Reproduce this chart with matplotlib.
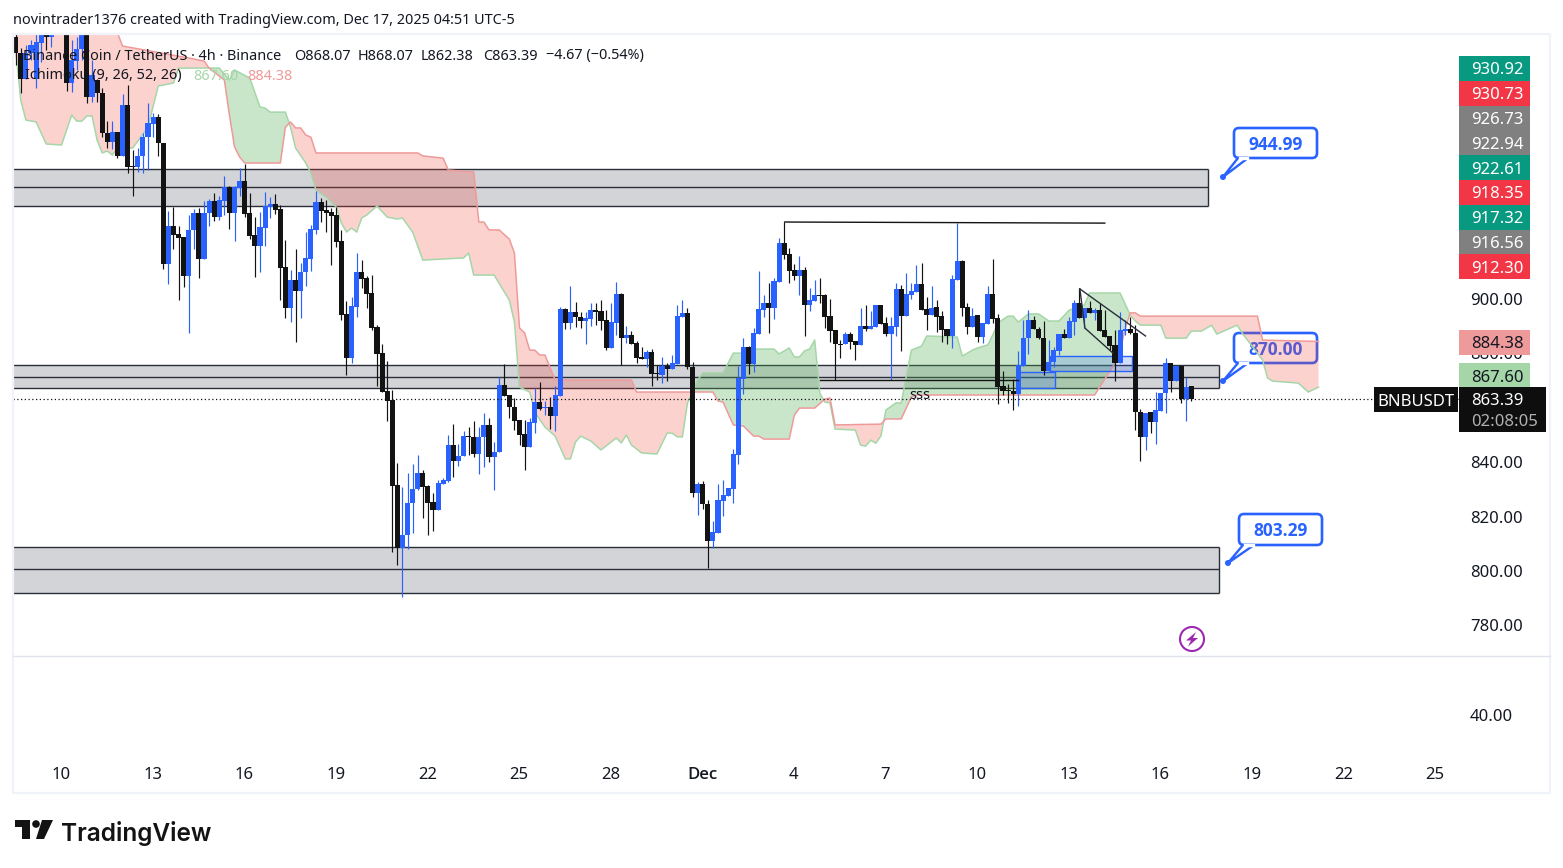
#!/usr/bin/env python
import numpy as np
import matplotlib
matplotlib.use('Agg')
import matplotlib.pyplot as plt
from matplotlib.patches import Rectangle, FancyBboxPatch, Polygon, Circle
from matplotlib.transforms import Affine2D

W, H = 1563, 868

plt.rcParams['font.family'] = ['Noto Sans', 'DejaVu Sans']

# 4h candles, BNBUSDT
opens = [996.3, 990.4, 980.9, 990.4, 980.9, 994.1, 997.0, 996.3, 1003, 1001,
         997.8, 979.4, 987.5, 991.9, 997.0, 974.2, 980.5, 975.7, 961.0, 957.7,
         961.4, 952.6, 971.3, 948.9, 948.5, 952.6, 959.5, 964.3, 966.9, 957.3,
         912.9, 926.8, 923.9, 922.8, 908.4, 925.3, 931.6, 914.7, 931.6, 936.0,
         930.1, 936.0, 941.2, 931.6, 940.8, 943.4, 931.6, 923.5, 919.5, 926.1,
         933.8, 934.9, 933.1, 911.8, 896.7, 907.0, 902.9, 909.9, 914.7, 925.3,
         935.6, 932.7, 932.0, 930.9, 921.3, 894.5, 878.3, 897.0, 909.9, 907.7,
         902.2, 889.7, 880.1, 866.2, 862.9, 831.6, 808.4, 813.2, 825.0, 830.1,
         836.0, 831.2, 825.4, 822.4, 832.0, 833.1, 846.3, 840.4, 842.3, 849.6,
         849.3, 843.0, 849.3, 853.7, 841.9, 843.7, 868.4, 864.7, 860.3, 855.5,
         850.4, 845.6, 854.4, 862.1, 859.9, 860.3, 857.0, 864.3, 896.3, 891.2,
         895.2, 893.4, 891.9, 892.6, 895.9, 895.6, 892.3, 882.0, 891.2, 901.8,
         885.6, 886.7, 883.8, 878.7, 877.9, 880.5, 872.8, 872.1, 875.4, 874.3,
         876.1, 893.4, 894.8, 875.0, 828.7, 832.0, 824.6, 811.0, 814.0, 825.7,
         827.6, 830.1, 842.6, 870.6, 882.3, 876.1, 887.1, 895.9, 898.5, 896.7,
         906.2, 920.6, 916.5, 910.7, 908.4, 910.7, 897.8, 899.2, 901.5, 901.5,
         893.7, 888.6, 883.4, 883.4, 887.1, 884.5, 883.1, 890.1, 889.0, 889.7,
         897.8, 891.2, 887.1, 889.7, 903.7, 893.7, 901.5, 902.6, 905.5, 896.3,
         894.1, 897.0, 893.7, 889.0, 886.4, 907.0, 914.0, 897.0, 889.7, 894.1,
         886.0, 890.8, 901.8, 893.0, 868.0, 866.5, 866.2, 865.1, 875.4, 885.6,
         892.3, 889.0, 885.6, 873.5, 876.8, 880.9, 887.1, 885.6, 891.5, 898.5,
         893.0, 896.7, 894.8, 895.9, 888.6, 886.4, 883.1, 876.5, 888.2, 889.0,
         887.5, 858.5, 849.3, 858.5, 854.8, 858.8, 865.4, 876.5, 869.8, 875.4,
         863.2, 868.07]
highs = [997.8, 992.3, 993.4, 995.2, 997.8, 997.8, 997.8, 997.8, 1005, 1003,
         1000, 995.2, 996.3, 998.0, 999.0, 987.8, 980.9, 977.6, 965.4, 965.4,
         961.4, 975.3, 978.6, 954.8, 955.5, 961.0, 972.0, 968.4, 968.0, 957.3,
         932.3, 933.8, 926.8, 922.8, 930.9, 933.1, 933.4, 936.0, 936.7, 938.9,
         937.8, 945.2, 941.5, 941.5, 948.1, 949.6, 938.9, 930.1, 932.0, 939.3,
         937.5, 938.6, 934.5, 921.7, 910.7, 918.4, 913.2, 924.6, 927.2, 939.7,
         937.1, 936.4, 933.4, 933.8, 925.3, 899.2, 900.7, 916.9, 914.3, 908.4,
         908.8, 890.4, 883.4, 877.2, 866.5, 839.7, 830.9, 836.0, 839.3, 842.6,
         837.1, 831.6, 828.7, 833.4, 834.2, 850.0, 854.0, 846.7, 851.5, 852.9,
         855.1, 852.9, 858.1, 856.2, 847.4, 871.3, 876.1, 864.7, 863.6, 855.5,
         855.5, 856.2, 867.3, 869.5, 862.5, 864.0, 868.0, 897.0, 896.7, 904.8,
         898.9, 895.2, 895.2, 898.5, 898.5, 899.6, 895.9, 898.5, 906.2, 902.2,
         890.1, 888.2, 884.5, 882.3, 881.2, 881.6, 875.7, 878.7, 876.5, 879.4,
         897.8, 899.6, 896.7, 876.8, 832.7, 833.1, 826.1, 818.4, 832.0, 833.5,
         830.5, 844.9, 875.4, 885.6, 882.7, 889.3, 910.3, 901.5, 905.9, 907.7,
         922.4, 928.3, 918.7, 912.9, 915.8, 911.8, 904.0, 907.0, 907.7, 901.8,
         900.0, 888.6, 884.9, 887.9, 887.9, 884.5, 896.7, 897.8, 895.6, 897.8,
         897.8, 893.4, 893.4, 905.9, 905.1, 909.5, 905.9, 912.5, 913.2, 900.7,
         904.8, 899.6, 895.6, 889.0, 908.8, 927.9, 914.3, 898.5, 896.7, 894.1,
         891.2, 904.8, 914.7, 894.5, 873.5, 868.7, 870.6, 880.9, 892.3, 895.9,
         893.7, 889.7, 891.9, 884.9, 882.3, 887.1, 888.9, 893.4, 899.6, 904.0,
         896.7, 899.2, 896.7, 898.5, 895.9, 886.4, 888.6, 895.2, 892.3, 893.4,
         890.4, 859.6, 858.1, 858.5, 865.8, 865.4, 878.3, 876.5, 875.4, 875.4,
         871.3, 868.07]
lows = [986.0, 975.7, 980.9, 987.8, 977.6, 987.1, 991.5, 992.6, 999, 998,
        976.4, 976.1, 984.2, 987.8, 972.0, 972.4, 972.4, 959.5, 955.5, 955.1,
        951.8, 952.6, 946.3, 937.8, 946.7, 946.3, 947.4, 959.5, 952.6, 911.0,
        905.5, 918.4, 899.6, 904.4, 887.5, 918.4, 907.7, 914.7, 926.8, 928.7,
        929.0, 930.9, 925.7, 921.3, 937.8, 930.1, 922.0, 908.1, 909.9, 919.5,
        929.8, 931.2, 899.6, 893.0, 891.5, 884.2, 893.0, 904.8, 910.3, 923.9,
        928.3, 924.6, 912.5, 919.1, 892.3, 872.0, 876.5, 893.4, 904.0, 896.7,
        888.6, 868.0, 865.8, 855.1, 807.0, 802.2, 790.4, 808.1, 814.0, 829.8,
        819.5, 813.2, 814.7, 822.4, 832.0, 832.7, 834.6, 838.6, 842.3, 842.6,
        841.9, 835.7, 838.2, 840.1, 829.8, 843.7, 864.3, 856.2, 851.8, 846.3,
        837.1, 845.6, 850.7, 859.2, 857.3, 852.2, 851.5, 864.3, 889.0, 889.0,
        889.7, 889.3, 883.4, 890.1, 890.4, 888.6, 881.2, 882.0, 886.8, 875.7,
        883.8, 883.4, 876.5, 877.9, 875.0, 868.0, 870.2, 869.1, 869.8, 874.3,
        876.1, 893.4, 874.2, 827.2, 820.6, 822.8, 801.1, 808.4, 814.0, 820.2,
        827.6, 825.0, 839.3, 865.1, 872.4, 873.1, 887.1, 893.4, 887.5, 892.6,
        906.2, 914.7, 905.9, 907.0, 901.5, 886.4, 895.6, 899.2, 898.5, 889.3,
        884.2, 870.2, 878.3, 883.4, 881.6, 877.6, 883.1, 888.2, 889.0, 889.7,
        890.8, 886.4, 870.2, 886.4, 880.9, 893.7, 900.0, 902.6, 895.9, 888.6,
        894.1, 887.9, 884.2, 883.4, 882.0, 907.0, 893.7, 887.1, 889.7, 884.2,
        883.8, 890.8, 891.2, 861.4, 864.7, 861.8, 859.2, 860.7, 875.4, 879.8,
        889.0, 885.3, 872.0, 873.5, 875.0, 879.4, 885.6, 885.6, 886.8, 893.0,
        889.3, 894.8, 892.3, 888.2, 886.0, 881.2, 869.8, 876.5, 886.8, 887.1,
        851.8, 840.4, 844.5, 850.7, 846.7, 858.8, 858.1, 865.8, 869.8, 861.8,
        855.1, 862.38]
closes = [990.4, 980.9, 990.4, 993.4, 994.5, 997.0, 996.3, 997.0, 1001, 999,
          979.4, 987.8, 991.9, 997.0, 974.2, 982.3, 975.7, 961.0, 957.7, 961.4,
          952.6, 971.3, 948.5, 948.5, 952.6, 959.5, 964.7, 966.9, 957.3, 912.9,
          926.8, 923.5, 922.4, 908.4, 925.3, 931.6, 914.7, 931.6, 936.0, 930.1,
          936.4, 941.2, 931.6, 941.2, 943.4, 931.2, 923.1, 919.5, 926.5, 934.2,
          934.9, 932.7, 911.4, 896.7, 907.0, 902.9, 909.9, 915.1, 925.7, 935.6,
          932.3, 931.6, 930.5, 920.9, 894.1, 878.3, 897.4, 909.9, 907.3, 901.8,
          889.3, 879.8, 865.8, 862.5, 831.2, 808.4, 813.2, 825.0, 830.1, 836.0,
          830.9, 825.0, 822.4, 832.3, 833.4, 846.3, 840.4, 842.3, 849.6, 849.3,
          843.0, 849.3, 853.7, 841.9, 843.7, 868.4, 864.3, 860.3, 855.1, 850.0,
          845.6, 854.8, 862.1, 859.6, 860.2, 857.0, 864.7, 896.3, 891.2, 895.2,
          893.4, 891.9, 893.0, 895.9, 895.2, 891.9, 882.0, 891.5, 901.8, 885.6,
          886.7, 883.4, 878.3, 877.9, 880.5, 872.4, 872.4, 875.4, 874.3, 876.5,
          893.7, 894.8, 875.0, 828.7, 832.0, 824.6, 811.0, 814.3, 826.1, 827.9,
          830.5, 843.0, 870.9, 882.3, 876.1, 887.5, 896.3, 898.5, 896.7, 906.6,
          920.6, 916.2, 910.3, 908.4, 910.7, 897.8, 899.6, 901.5, 901.1, 893.4,
          888.2, 883.4, 883.1, 887.1, 884.2, 883.1, 890.1, 889.0, 890.1, 897.8,
          890.8, 887.1, 890.1, 903.7, 893.7, 901.8, 902.9, 905.5, 895.9, 894.1,
          896.7, 893.4, 888.6, 886.4, 907.3, 914.0, 896.7, 889.7, 893.7, 886.0,
          891.2, 901.8, 892.6, 867.6, 866.2, 866.2, 865.1, 875.7, 885.6, 892.3,
          889.0, 885.6, 873.5, 876.8, 881.2, 887.1, 885.6, 891.9, 898.5, 893.0,
          896.7, 894.8, 895.9, 888.2, 886.0, 882.7, 876.5, 888.6, 889.0, 887.5,
          858.5, 849.3, 858.1, 854.8, 859.2, 865.4, 876.5, 869.8, 875.4, 863.2,
          867.6, 863.39]

# ichimoku spans, knots
span_a_bars = [0, 1, 2, 4, 6, 9, 11, 12, 13, 14, 15, 16, 17, 18, 19, 20, 23, 26, 28, 31,
               32, 40, 42, 43, 46, 48, 49, 50, 53, 54, 55, 57, 58, 59, 61, 63, 64, 65, 66, 67,
               68, 69, 71, 73, 75, 76, 78, 80, 88, 89, 90, 94, 97, 98, 99, 101, 102, 104, 106, 108,
               109, 110, 111, 113, 115, 118, 119, 120, 121, 123, 126, 128, 129, 130, 131, 132, 134, 135, 139, 141,
               143, 144, 149, 150, 152, 153, 154, 155, 156, 157, 158, 159, 160, 161, 165, 166, 167, 168, 169, 170,
               171, 173, 174, 176, 178, 179, 185, 186, 188, 189, 191, 192, 193, 195, 196, 197, 199, 201, 203, 205,
               207, 210, 211, 217, 219, 220, 221, 225, 226, 230, 231, 233, 235, 236, 240, 241, 245, 246, 247, 252,
               254, 256]
span_a = [991.5, 973.1, 965.8, 965.1, 957.0, 956.6, 967.6, 965.4, 965.4, 967.3, 967.3, 958.4, 953.7, 954.4, 952.9, 955.5, 955.5, 963.2, 978.3, 979.4,
          984.9, 984.9, 980.5, 984.2, 981.2, 970.6, 970.2, 968.7, 968.7, 963.2, 955.5, 950.0, 946.3, 940.0, 937.5, 933.8, 927.9, 924.6, 926.1, 924.6,
          929.8, 930.9, 934.2, 930.1, 929.4, 929.8, 924.6, 914.3, 915.1, 916.9, 908.8, 908.8, 899.6, 891.5, 867.6, 865.8, 858.4, 852.9, 849.6, 841.2,
          841.2, 847.4, 849.6, 847.8, 844.5, 848.9, 847.1, 850.0, 846.3, 843.4, 843.0, 850.7, 850.7, 849.3, 849.3, 861.7, 870.2, 872.8, 872.8, 880.1,
          880.1, 881.6, 881.6, 879.8, 882.0, 878.7, 878.7, 880.9, 881.6, 884.9, 865.4, 862.1, 861.8, 852.2, 851.8, 846.3, 845.9, 848.1, 847.0, 849.6,
          859.2, 861.8, 861.8, 881.2, 882.7, 886.4, 886.0, 879.0, 881.2, 882.0, 883.1, 886.8, 891.2, 893.7, 893.7, 891.5, 894.5, 894.5, 891.9, 891.9,
          895.9, 897.8, 902.2, 902.2, 894.1, 891.9, 890.4, 890.4, 885.6, 885.6, 888.2, 888.2, 890.4, 887.1, 890.4, 887.5, 877.6, 870.9, 869.8, 869.1,
          865.8, 867.6]
span_b_bars = [0, 20, 21, 34, 37, 38, 41, 42, 43, 44, 45, 52, 53, 54, 55, 56, 57, 58, 59, 79,
               80, 84, 85, 90, 91, 92, 93, 95, 97, 98, 99, 100, 101, 102, 103, 104, 106, 121, 122, 137,
               138, 139, 141, 143, 145, 146, 147, 152, 153, 154, 157, 159, 160, 161, 170, 171, 174, 176, 177, 212,
               216, 217, 218, 219, 220, 221, 244, 245, 256]
span_b = [1020, 997.8, 993.0, 988.6, 987.5, 984.9, 980.5, 967.6, 955.9, 952.2, 950.0, 950.0, 963.2, 965.1, 962.9, 962.9, 960.3, 959.5, 953.7, 953.7,
          952.6, 951.8, 947.4, 946.7, 928.3, 928.3, 925.4, 925.4, 922.0, 916.9, 889.3, 887.5, 881.2, 881.2, 879.4, 879.4, 870.2, 870.2, 865.8, 865.8,
          862.5, 862.1, 853.7, 853.3, 849.6, 849.6, 848.5, 848.5, 857.3, 859.9, 859.9, 863.2, 863.6, 853.7, 854.0, 855.9, 855.9, 864.0, 864.7, 864.7,
          876.4, 881.0, 889.0, 894.9, 894.9, 893.7, 893.7, 884.9, 884.38]

# support / resistance zones
zone_tops = [947.8, 875.7, 808.8]
zone_mids = [941.1, 871.3, 800.7]
zone_bots = [934.2, 867.3, 791.9]
zone_ends = [234.2, 236.4, 236.4]

# price scale
price_ticks = [900, 880, 860, 840, 820, 800, 780]
tag_values = ['930.92', '930.73', '926.73', '922.94', '922.61', '918.35', '917.32', '916.56', '912.30']
tag_colors = ['#089981', '#F23645', '#808080', '#808080', '#089981', '#F23645', '#089981', '#808080', '#F23645']

# time scale
day_ticks = [8.9 + 18 * k for k in range(16)]
day_labels = ['10', '13', '16', '19', '22', '25', '28', 'Dec', '4', '7', '10', '13', '16', '19', '22', '25']

BLUE = '#2962FF'
BLACK = '#131313'
DARK = '#2A2E39'
TEXT = '#131722'

fig = plt.figure(figsize=(W / 100, H / 100), dpi=100, facecolor='white')
# pixel coordinates for layout pieces, origin top left
px = Affine2D().scale(1, -1).translate(0, H)


def axes_px(left, top, right, bottom):
    return fig.add_axes([left / W, 1 - bottom / H, (right - left) / W, (bottom - top) / H])


ax = axes_px(13, 35, 1459, 656)
ax2 = axes_px(13, 656, 1459, 760)
xlim = (-0.53, 283.6)

# zones
for top, mid, bot, end in zip(zone_tops, zone_mids, zone_bots, zone_ends):
    ax.add_patch(Rectangle((-2, bot), end + 2, top - bot, fc='#D3D4D7', ec='none', zorder=1))
    ax.hlines([top, mid, bot], -2, end, color=DARK, lw=1.0, zorder=1.1)
    ax.vlines(end, bot, top, color=DARK, lw=1.0, zorder=1.1)


def callout(label, left, top, right, bottom, tail1, tail2, dot):
    ax.add_patch(FancyBboxPatch((left, top), right - left, bottom - top,
                                boxstyle='round,pad=0,rounding_size=5', fc='white', ec=BLUE,
                                lw=1.9, transform=px, clip_on=False, zorder=1.2))
    ax.add_patch(Polygon([(tail1, bottom), dot, (tail2, bottom)], closed=True, fc='white', ec=BLUE,
                         lw=1.7, transform=px, clip_on=False, zorder=1.25))
    ax.plot([tail1 + 1.5, tail2 - 1.5], [bottom, bottom], color='white', lw=2.4, transform=px,
            clip_on=False, zorder=1.26)
    ax.add_patch(Circle(dot, 3, fc=BLUE, ec='none', transform=px, clip_on=False, zorder=1.27))
    ax.text((left + right) / 2, (top + bottom) / 2, label, color=BLUE, fontsize=12.5, fontweight='bold',
            family=['Open Sans', 'DejaVu Sans'], ha='center', va='center_baseline', transform=px,
            clip_on=False, zorder=1.3)


callout('944.99', 1234, 128, 1317, 158, 1238, 1248, (1223, 177))
callout('870.00', 1234, 333, 1317, 363, 1238, 1248, (1223, 381))
callout('803.29', 1239, 514, 1322, 545, 1243, 1254, (1228, 563))

# cloud
grid = np.arange(0, 256.01, 0.05)
a_grid = np.interp(grid, span_a_bars, span_a)
b_grid = np.interp(grid, span_b_bars, span_b)
ax.fill_between(grid, a_grid, b_grid, where=a_grid >= b_grid, interpolate=True, color='#4CAF50',
                alpha=0.3, lw=0, zorder=2)
ax.fill_between(grid, a_grid, b_grid, where=a_grid < b_grid, interpolate=True, color='#F44336',
                alpha=0.24, lw=0, zorder=2)
ax.plot(span_a_bars, span_a, color='#A5D6A7', lw=1.1, zorder=2.1)
ax.plot(span_b_bars, span_b, color='#EF9A9A', lw=1.1, zorder=2.1)

# candles
bars = np.arange(len(opens))
o = np.array(opens)
h = np.array(highs)
l = np.array(lows)
c = np.array(closes)
colors = np.where(c >= o, BLUE, BLACK)
ax.vlines(bars, l, h, colors=colors, lw=0.85, zorder=3)
ax.bar(bars, np.maximum(np.abs(c - o), 0.5), bottom=np.minimum(o, c), width=1.0, color=colors, lw=0, zorder=3.1)

# drawings
ax.plot([151.1, 214], [928.3, 927.9], color=BLACK, lw=1.0, zorder=4)
ax.plot([158, 197], [870.2, 870.2], color=BLACK, lw=1.0, zorder=4)
ax.add_patch(Rectangle((203.2, 873.4), 16.1, 5.5, fc=BLUE, ec='none', alpha=0.2, zorder=2.5))
ax.add_patch(Rectangle((203.2, 873.4), 16.1, 5.5, fc='none', ec=BLUE, lw=1.0, zorder=2.5))
ax.add_patch(Rectangle((196.7, 867.3), 7.6, 5.9, fc=BLUE, ec='none', alpha=0.2, zorder=2.5))
ax.add_patch(Rectangle((196.7, 867.3), 7.6, 5.9, fc='none', ec=BLUE, lw=1.0, zorder=2.5))
ax.plot([209.1, 222], [903.7, 886.4], color=DARK, lw=1.0, zorder=4)
ax.plot([209.1, 210.1, 215.6], [903.7, 889.3, 880.1], color=DARK, lw=1.0, zorder=4)
ax.text(177.7, 864.4, 'sss', fontsize=10.5, color=TEXT, ha='center', va='center', zorder=4)

# last price line
ax.axhline(closes[-1], color=BLACK, lw=0.9, ls=(0, (1, 2)), zorder=3.5)

# axes setup
ax.set_xlim(xlim)
ax.set_ylim(768.75, 997.06)
ax.set_xticks([])
ax.set_yticks(price_ticks)
ax.set_yticklabels(['%.2f' % p for p in price_ticks], va='center_baseline')
ax.yaxis.tick_right()
ax.tick_params(axis='y', length=0, pad=7.9, labelsize=12, labelcolor=TEXT)

ax2.set_xlim(xlim)
ax2.set_ylim(0, 92.4)
ax2.set_yticks([40])
ax2.set_yticklabels(['40.00'], va='center_baseline')
ax2.yaxis.tick_right()
ax2.tick_params(axis='y', length=0, pad=7.9, labelsize=12, labelcolor=TEXT)
ax2.set_xticks(day_ticks)
ax2.set_xticklabels(day_labels)
ax2.tick_params(axis='x', length=0, pad=4.7, labelsize=12, labelcolor=TEXT)
for label in ax2.get_xticklabels():
    if label.get_text() == 'Dec':
        label.set_fontfamily(['Open Sans', 'DejaVu Sans'])
        label.set_fontweight('semibold')
for a in (ax, ax2):
    for s in a.spines.values():
        s.set_visible(False)
    a.patch.set_alpha(0)


def fig_rect(left, top, right, bottom, **kw):
    fig.add_artist(Rectangle((left, top), right - left, bottom - top, transform=px, **kw))


def fig_text(x, y, s, **kw):
    fig.text(x, y, s, transform=px, va=kw.pop('va', 'center_baseline'), **kw)


# frame and pane separator
fig.add_artist(plt.Line2D([12.5, 1550, 1550, 12.5, 12.5], [34, 34, 793, 793, 34], color='#F0F3FA', lw=1.6, transform=px))
fig.add_artist(plt.Line2D([13, 1550], [656, 656], color='#E0E3EB', lw=1.0, transform=px))

# header and legend
fig_text(13, 19, 'novintrader1376 created with TradingView.com, Dec 17, 2025 04:51 UTC-5', fontsize=10.4, color=TEXT, zorder=20)
fig_text(23, 54, 'Binance Coin / TetherUS · 4h · Binance', fontsize=10.4, color=TEXT, zorder=20)
for x, s in zip([294, 358, 421, 483, 546], ['O868.07', 'H868.07', 'L862.38', 'C863.39', '\u22124.67 (\u22120.54%)']):
    fig_text(x, 54, s, fontsize=10.4, color=TEXT, zorder=20)
fig_text(25, 74, 'Ichimoku (9, 26, 52, 26)', fontsize=10.4, color=TEXT, zorder=20)
fig_text(193, 74, '867.60', fontsize=10.4, color='#A5D6A7', zorder=20)
fig_text(247, 74, '884.38', fontsize=10.4, color='#EF9A9A', zorder=20)

# price tags
for k, (value, color) in enumerate(zip(tag_values, tag_colors)):
    top = 56 + k * 24.8
    fig_rect(1459, top, 1530, top + 24.8, fc=color, ec='none', zorder=10)
    fig_text(1471, top + 12.4, value, fontsize=12, color='white', zorder=11)
fig_rect(1459, 330, 1530, 355, fc='#EF9A9A', ec='none', zorder=10)
fig_text(1471, 342.5, '884.38', fontsize=12, color=TEXT, zorder=11)
fig_rect(1459, 363, 1530, 387.5, fc='#A5D6A7', ec='none', zorder=10)
fig_text(1471, 375.5, '867.60', fontsize=12, color=TEXT, zorder=11)
fig_rect(1459, 387, 1546, 432, fc='#0E0E0E', ec='none', zorder=10)
fig_text(1471, 399, '863.39', fontsize=12, color='white', zorder=11)
fig_text(1471, 420, '02:08:05', fontsize=12, color='#B2B2B2', zorder=11)
fig_rect(1374, 387, 1458, 412, fc='#0E0E0E', ec='none', zorder=10)
fig_text(1416, 399.5, 'BNBUSDT', fontsize=12, color='white', ha='center', zorder=11)

# lightning icon
fig.add_artist(Circle((1192, 639), 12, fc='none', ec='#9C27B0', lw=1.5, transform=px))
fig.add_artist(Polygon([(1196, 632), (1186, 640.5), (1191, 640.5), (1188, 646.5), (1198, 638), (1193, 638)],
                       closed=True, fc='#9C27B0', ec='none', transform=px))

# logo
fig.add_artist(Polygon([(15, 820), (30, 820), (30, 839), (22, 839), (22, 827), (15, 827)],
                       closed=True, fc=BLACK, ec='none', transform=px))
fig.add_artist(Circle((36, 824), 3.8, fc=BLACK, ec='none', transform=px))
fig.add_artist(Polygon([(42, 820), (53, 820), (44, 839), (36, 839)], closed=True, fc=BLACK, ec='none', transform=px))
fig_text(61, 831, 'TradingView', fontsize=17.6, fontweight='semibold', family=['Inter', 'DejaVu Sans'], color=BLACK)

fig.savefig('out.png', dpi=100, facecolor='white')
